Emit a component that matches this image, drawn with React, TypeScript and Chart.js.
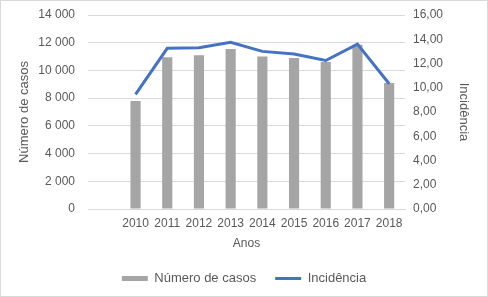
import React, { useEffect, useRef } from "react";
import { Chart, registerables } from "chart.js";

Chart.register(...registerables);

const categories = ["", "2010", "2011", "2012", "2013", "2014", "2015", "2016", "2017", "2018"];
const casos = [null, 7800, 10950, 11100, 11550, 11000, 10900, 10600, 11850, 9100];
const incidencia = [null, 9.46, 13.25, 13.3, 13.75, 13.0, 12.78, 12.25, 13.6, 10.33];
const leftTicksMax = 14000;
const rightTicksMax = 16;

const GRAY_TEXT = "#595959";
const GRID = "#D9D9D9";
const BAR = "#A5A5A5";
const LINE = "#4472C4";
const FONT = { family: "'Liberation Sans', Arial, sans-serif", size: 12 };
const TITLE_FONT = { family: "'Liberation Sans', Arial, sans-serif", size: 13 };
const LEGEND_FONT = { family: "'Liberation Sans', Arial, sans-serif", size: 13 };

export default function App() {
  const ref = useRef<HTMLCanvasElement | null>(null);
  useEffect(() => {
    if (!ref.current) return;
    const chart = new Chart(ref.current, {
      type: "bar",
      data: {
        labels: categories,
        datasets: [
          {
            type: "bar",
            label: "Número de casos",
            data: casos as any,
            backgroundColor: BAR,
            yAxisID: "y",
            order: 2,
            categoryPercentage: 1,
            barPercentage: 0.32,
          },
          {
            type: "line",
            label: "Incidência",
            data: incidencia as any,
            borderColor: LINE,
            backgroundColor: LINE,
            borderWidth: 3,
            pointRadius: 0,
            tension: 0,
            yAxisID: "y1",
            order: 1,
          },
        ],
      },
      options: {
        responsive: false,
        animation: false,
        layout: { padding: { top: 15, bottom: 2, left: 0, right: 0 } },
        plugins: {
          tooltip: { enabled: false },
          legend: {
            position: "bottom",
            labels: {
              color: GRAY_TEXT,
              font: LEGEND_FONT,
              usePointStyle: true,
              pointStyleWidth: 26,
              boxHeight: 5,
              padding: 19,
              generateLabels: () => [
                {
                  text: "Número de casos",
                  fillStyle: BAR,
                  strokeStyle: BAR,
                  lineWidth: 0,
                  pointStyle: "rect",
                  fontColor: GRAY_TEXT,
                  datasetIndex: 0,
                  hidden: false,
                },
                {
                  text: "Incidência",
                  fillStyle: LINE,
                  strokeStyle: LINE,
                  lineWidth: 3,
                  pointStyle: "line",
                  fontColor: GRAY_TEXT,
                  datasetIndex: 1,
                  hidden: false,
                },
              ] as any,
            },
          },
        },
        scales: {
          x: {
            grid: { display: false, drawTicks: false },
            border: { display: true, color: GRID },
            ticks: { color: GRAY_TEXT, font: FONT, padding: 7, maxRotation: 0, autoSkip: false },
            title: { display: true, text: "Anos", color: GRAY_TEXT, font: FONT, padding: { top: 0, bottom: 2 } },
            afterFit: (s: any) => {
              s.height = 44;
            },
          },
          y: {
            position: "left",
            min: 0,
            max: leftTicksMax,
            grid: { color: GRID, drawTicks: false },
            border: { display: false },
            ticks: {
              stepSize: 2000,
              color: GRAY_TEXT,
              font: FONT,
              padding: 13,
              callback: (v: any) => String(v).replace(/\B(?=(\d{3})+(?!\d))/g, " "),
            },
            title: { display: true, text: "Número de casos", color: GRAY_TEXT, font: TITLE_FONT, padding: { top: 17, bottom: 0 } },
            afterFit: (s: any) => {
              s.width = 88;
              s.paddingTop = 0;
              s.paddingBottom = 0;
            },
          },
          y1: {
            position: "right",
            min: 0,
            max: rightTicksMax,
            grid: { display: false, drawTicks: false },
            border: { display: false },
            ticks: {
              stepSize: 2,
              color: GRAY_TEXT,
              font: FONT,
              padding: 8,
              callback: (v: any) => Number(v).toFixed(2).replace(".", ","),
            },
            title: { display: true, text: "Incidência", color: GRAY_TEXT, font: TITLE_FONT, padding: { top: 17, bottom: 0 } },
            afterFit: (s: any) => {
              s.width = 83;
              s.paddingTop = 0;
              s.paddingBottom = 0;
            },
          },
        },
      },
    });
    return () => chart.destroy();
  }, []);
  return (
    <div style={{ position: "fixed", left: 0, top: 0, width: 488, height: 297, background: "#fff" }}>
      <canvas ref={ref} width={488} height={297} style={{ position: "absolute", left: 0, top: 0 }} />
      <div
        style={{
          position: "absolute",
          left: 0,
          top: 0,
          width: 488,
          height: 297,
          boxSizing: "border-box",
          border: "1px solid #D9D9D9",
          pointerEvents: "none",
        }}
      />
    </div>
  );
}
